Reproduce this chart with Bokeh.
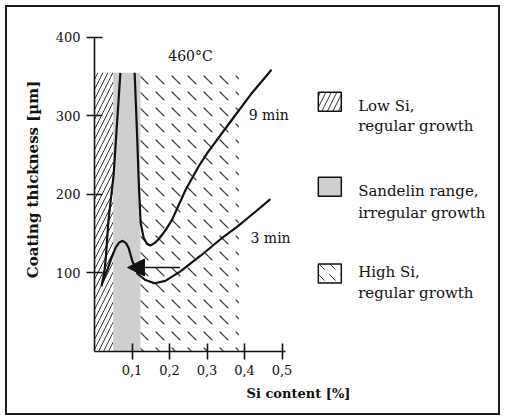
from bokeh.plotting import figure
from bokeh.models import Arrow, NormalHead, FixedTicker
from bokeh.core.properties import value
from bokeh.embed import file_html
from bokeh.resources import INLINE

# ---- data ----
region_left = [0.0, 0.05, 0.123]
region_right = [0.05, 0.123, 0.385]
region_top = [355, 355, 355]

si_9min_a = [0.019, 0.027, 0.031, 0.037, 0.045, 0.051, 0.059, 0.069]
t_9min_a = [83, 104, 124, 166, 200, 225, 283, 355]

si_9min_b = [0.107, 0.111, 0.114, 0.118, 0.123, 0.131, 0.140, 0.149, 0.160,
             0.171, 0.190, 0.207, 0.243, 0.278, 0.301, 0.363, 0.416, 0.472]
t_9min_b = [355, 308, 270, 215, 164, 145, 137, 135, 138,
            143, 155, 168, 206, 236, 253, 293, 327, 359]

si_3min = [0.021, 0.035, 0.046, 0.056, 0.066, 0.075, 0.084, 0.091, 0.101,
           0.115, 0.136, 0.160, 0.189, 0.229, 0.283, 0.336, 0.381, 0.429, 0.469]
t_3min = [88, 105, 120, 132, 139, 141, 138, 132, 115,
          99, 91, 87, 90, 102, 122, 143, 159, 178, 194]

arrow_si = [0.228, 0.088]
arrow_t = 107

x_ticks = [0.1, 0.2, 0.3, 0.4, 0.5]
x_tick_labels = ["0,1", "0,2", "0,3", "0,4", "0,5"]
y_ticks = [100, 200, 300, 400]

legend_line1 = ["Low Si,", "Sandelin range,", "High Si,"]
legend_line2 = ["regular growth", "irregular growth", "regular growth"]

FONT = "DejaVu Serif"

p = figure(width=495, height=410, output_backend="svg", toolbar_location=None,
           x_range=(0, 1.088), y_range=(0, 438.2),
           min_border_left=87, min_border_right=0, min_border_top=0,
           min_border_bottom=66)
p.styles = {"border": "2px solid #1a1a1a",
            "margin-left": "5px", "margin-top": "5px"}
p.grid.visible = False
p.outline_line_color = None
p.background_fill_color = "white"

# regions
hatches = ["right_diagonal_line", None, "left_diagonal_dash"]
fills = ["white", "#cfcfcf", "white"]
scales = [10, None, 16]
for i in range(3):
    kw = {}
    if hatches[i]:
        kw = dict(hatch_pattern=hatches[i], hatch_color="#333333",
                  hatch_scale=scales[i], hatch_weight=1.2 if i == 2 else 1.0)
    p.quad(left=region_left[i], right=region_right[i], bottom=0, top=region_top[i],
           fill_color=fills[i], line_color=None, **kw)

# curves
for xs, ys in [(si_9min_a, t_9min_a), (si_9min_b, t_9min_b), (si_3min, t_3min)]:
    p.line(xs, ys, line_color="#111111", line_width=2.2, line_join="round")

p.add_layout(Arrow(end=NormalHead(size=17, fill_color="#111111", line_color="#111111"),
                   x_start=arrow_si[0], y_start=arrow_t, x_end=arrow_si[1], y_end=arrow_t,
                   line_color="#111111", line_width=1.6))

# annotations
txt = dict(text_font=value(FONT), text_color="#111111", text_baseline="middle")
p.text(x=[0.256], y=[376], text=["460°C"], text_align="center",
       text_font_size=value("14px"), **txt)
p.text(x=[0.411, 0.416], y=[301, 145], text=["9 min", "3 min"], text_align="left",
       text_font_size=value("14px"), **txt)

# legend
box_y = [318, 210, 99.5]
p.rect(x=[0.6275] * 3, y=box_y, width=23, height=19, width_units="screen",
       height_units="screen", fill_color=fills, line_color="#111111", line_width=1.5,
       hatch_pattern=[h or " " for h in hatches], hatch_color="#333333",
       hatch_scale=11, hatch_weight=1.0)
p.text(x=[0.703] * 3, y=[313, 204, 101], text=legend_line1, text_align="left",
       text_font_size=value("15px"), **txt)
p.text(x=[0.703] * 3, y=[287, 177, 74], text=legend_line2, text_align="left",
       text_font_size=value("15px"), **txt)

# axes
xa = p.xaxis[0]
ya = p.yaxis[0]
xa.bounds = (0, 0.51)
ya.bounds = (0, 400)
xa.ticker = FixedTicker(ticks=x_ticks)
ya.ticker = FixedTicker(ticks=y_ticks)
xa.major_label_overrides = dict(zip(x_ticks, x_tick_labels))
xa.axis_label = "Si content [%]"
ya.axis_label = "Coating thickness [µm]"
for ax in (xa, ya):
    ax.minor_tick_line_color = None
    ax.major_tick_in = 8
    ax.major_tick_out = 8
    ax.axis_line_width = 1.6
    ax.major_tick_line_width = 1.6
    ax.axis_line_color = "#111111"
    ax.major_tick_line_color = "#111111"
    ax.major_label_text_font = FONT
    ax.major_label_text_font_size = "13px"
    ax.major_label_text_color = "#111111"
    ax.axis_label_text_font = FONT
    ax.axis_label_text_font_style = "bold"
    ax.axis_label_text_color = "#111111"
xa.axis_label_text_font_size = "13px"
ya.axis_label_text_font_size = "15px"
xa.major_label_standoff = 5
xa.axis_label_standoff = 8
ya.major_label_standoff = 6
ya.axis_label_standoff = 11

open("out.html", "w").write(file_html(p, INLINE))
